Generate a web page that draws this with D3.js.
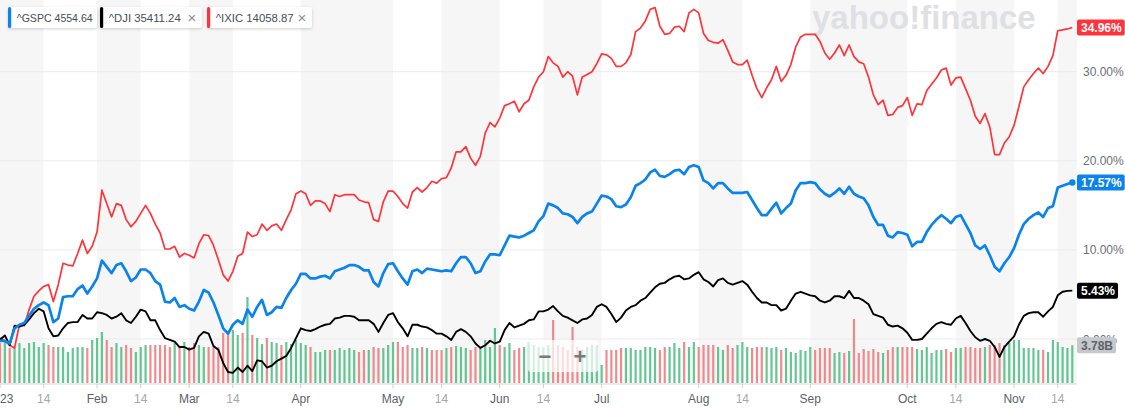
<!DOCTYPE html>
<html>
<head>
<meta charset="utf-8">
<script src="https://cdn.jsdelivr.net/npm/d3@7"></script>
<style>
  body { margin: 0; background: #fff; }
  svg { display: block; font-family: "Liberation Sans", Arial, sans-serif; }
</style>
</head>
<body>
<div id="container"></div>
<script>
/**
 * DATA
 * */
// trading calendar, Jan 3 - Nov 17 2023
const firstDay = "2023-01-03", lastDay = "2023-11-17";
const holidays = ["2023-01-16", "2023-02-20", "2023-04-07", "2023-05-29", "2023-06-19", "2023-07-04", "2023-09-04"];

// % change since 2022 close, one value per trading day (Jan | Feb | ... | Nov)
const gspc = [
  -0.2, -0.2, -0.5, 1.2, 1.6, 1.8, 2.6, 3.4, 3.8, 4.1, 3.8, 1.9, 2.3, 4.7, 4.8, 4.8, 5.6, 6.0, 5.1, 5.9,
  6.8, 8.8, 8.1, 7.4, 8.3, 8.5, 7.6, 6.5, 6.9, 7.8, 7.8, 7.4, 6.5, 6.1, 4.2, 4.1, 4.6, 3.6, 3.8,
  3.4, 3.2, 4.2, 5.5, 5.2, 4.1, 2.7, 1.2, 0.6, 1.6, 2.1, 1.7, 3.3, 2.5, 3.6, 4.4, 2.7, 3.0, 3.6, 3.5, 4.6, 5.5, 6.2,
  7.3, 7.3, 6.8, 6.8, 7.0, 7.1, 6.8, 7.6, 7.8, 8.0, 8.3, 8.3, 8.1, 7.7, 7.7, 6.4, 5.9, 7.4, 8.4,
  8.5, 7.6, 6.8, 6.1, 7.6, 7.8, 7.4, 7.9, 7.8, 7.7, 7.6, 7.7, 7.6, 8.5, 9.2, 9.2, 8.5, 7.4, 7.6, 8.7, 9.5, 9.5,
  9.4, 10.5, 11.6, 11.5, 11.4, 11.6, 11.9, 12.2, 13.2, 13.8, 15.2, 15.0, 14.7, 14.1, 14.0, 13.7, 13.0, 13.7, 14.1, 14.3, 15.2,
  16.1, 16.0, 15.7, 14.9, 14.8, 15.1, 15.9, 17.2, 17.5, 17.9, 18.7, 19.0, 18.3, 18.2, 18.5, 18.9, 19.0, 18.5, 19.3, 19.5,
  19.3, 17.8, 17.5, 16.9, 17.5, 17.5, 16.9, 16.4, 16.4, 16.4, 16.5, 15.6, 14.7, 13.9, 13.9, 14.6, 15.3, 14.1, 14.7, 15.2, 16.7, 17.5, 17.5,
  17.6, 17.5, 16.8, 16.3, 16.0, 16.4, 16.9, 16.3, 17.1, 16.3, 16.0, 15.8, 15.0, 13.7, 12.8, 12.8, 11.6, 11.4, 12.0, 11.9,
  11.7, 10.4, 10.9, 10.9, 12.0, 12.8, 13.4, 13.9, 13.5, 13.0, 13.7, 13.9, 12.9, 11.9, 10.5, 10.1, 10.5, 9.4, 8.1, 7.6, 8.5, 9.2,
  10.2, 11.7, 12.9, 13.5, 13.9, 14.2, 13.7, 14.7, 14.9, 17.0, 17.2, 17.4, 17.57
];
const dji = [
  -0.1, 0.4, -0.7, 1.5, 1.4, 1.6, 2.2, 2.9, 3.4, 3.1, 1.2, 0.3, 0.4, 1.2, 1.8, 1.9, 1.9, 2.7, 2.3, 2.3,
  3.0, 2.9, 2.7, 2.3, 2.5, 2.9, 2.1, 1.8, 2.5, 3.3, 3.1, 2.1, 2.1, 1.0, 0.1, -0.1, -0.3, -0.9, -0.9,
  -1.2, -1.0, 0.3, 0.8, 0.6, -0.8, -1.2, -2.7, -3.7, -3.8, -3.2, -3.7, -3.0, -3.6, -2.4, -2.5, -3.2, -3.0, -2.5, -2.2, -1.9, -1.0, 0.1,
  1.2, 1.0, 0.9, 1.1, 1.4, 1.6, 1.7, 2.3, 2.4, 2.6, 2.6, 2.5, 2.1, 2.1, 2.1, 1.7, 0.8, 1.8, 2.7,
  2.9, 1.9, 1.2, 0.3, 1.6, 1.6, 1.4, 1.3, 1.0, 0.6, 0.6, 0.3, -0.1, 0.8, 1.1, 0.8, 0.3, -0.5, -1.0, -0.7, -0.2, -0.5,
  -0.3, 1.0, 1.8, 1.3, 1.5, 1.7, 2.1, 2.2, 3.1, 3.1, 3.3, 3.7, 3.1, 2.6, 2.4, 2.1, 1.8, 2.2, 2.3, 2.7, 3.6,
  3.9, 3.6, 2.8, 1.9, 2.4, 3.2, 3.6, 3.8, 4.3, 4.6, 5.2, 5.8, 6.2, 6.3, 6.7, 7.0, 7.1, 6.7, 6.8, 7.2,
  7.5, 6.7, 6.4, 5.9, 6.6, 6.8, 6.3, 6.1, 6.3, 6.5, 6.1, 5.3, 4.6, 4.1, 4.1, 3.8, 3.8, 3.2, 3.4, 4.3, 5.1, 5.3, 5.1,
  4.9, 4.8, 4.3, 4.1, 4.3, 4.8, 4.8, 4.6, 5.4, 4.6, 4.6, 4.3, 3.9, 2.8, 2.6, 2.4, 1.6, 1.4, 1.5, 1.2,
  0.7, -0.1, -0.1, 0.0, 0.6, 1.2, 1.7, 1.9, 1.7, 1.6, 2.3, 2.6, 1.8, 0.9, 0.2, -0.2, 0.0, -0.2, -0.9, -2.0, -0.9, -0.3,
  0.3, 1.6, 2.6, 2.9, 3.0, 3.0, 2.5, 3.1, 3.6, 4.9, 5.3, 5.4, 5.43
];
const ixic = [
  0.1, -0.2, -0.7, -1.0, 1.6, 1.5, 3.3, 4.8, 5.4, 5.9, 6.1, 4.2, 6.1, 8.5, 8.3, 8.2, 9.6, 11.1, 9.6, 10.4,
  12.0, 16.7, 15.2, 13.7, 15.2, 15.0, 13.4, 12.6, 13.2, 14.1, 15.0, 14.1, 12.9, 11.9, 10.1, 10.1, 10.4, 9.2, 9.6,
  9.4, 9.1, 10.7, 11.7, 11.6, 10.5, 8.9, 7.2, 6.5, 7.6, 9.3, 9.6, 12.0, 11.5, 11.7, 12.9, 12.2, 12.7, 12.9, 12.2, 13.4, 14.5, 16.3,
  16.6, 16.3, 15.0, 15.5, 15.5, 15.2, 14.3, 16.2, 16.0, 16.2, 16.2, 16.2, 15.6, 15.4, 15.3, 13.4, 13.2, 15.4, 16.6,
  16.6, 16.0, 15.2, 14.7, 16.5, 17.0, 16.5, 17.0, 17.7, 17.5, 18.0, 18.1, 19.2, 21.0, 21.0, 21.6, 20.3, 19.5, 20.5, 23.1, 24.3, 23.8,
  24.8, 26.2, 26.4, 26.7, 25.5, 26.4, 26.8, 28.3, 29.4, 30.0, 31.7, 31.0, 30.6, 29.4, 30.0, 29.5, 27.4, 29.4, 29.7, 30.0, 30.9,
  32.0, 31.9, 31.5, 30.6, 30.6, 31.0, 31.9, 34.5, 34.9, 35.7, 37.0, 37.2, 35.1, 34.2, 34.3, 35.0, 35.1, 34.5, 36.6, 37.0,
  36.6, 34.3, 33.5, 33.3, 33.2, 33.6, 32.4, 31.1, 30.8, 30.8, 31.3, 29.6, 28.1, 27.1, 28.2, 29.1, 30.6, 28.9, 29.6, 30.8, 32.8, 33.9, 34.2,
  34.2, 34.2, 33.4, 32.1, 31.4, 32.1, 33.0, 31.8, 33.0, 31.7, 31.1, 30.9, 29.4, 27.4, 26.3, 26.8, 25.1, 25.2, 26.0, 26.2,
  27.1, 25.1, 26.4, 26.3, 27.9, 28.6, 29.3, 30.2, 30.4, 28.5, 29.3, 29.4, 28.1, 26.8, 25.0, 24.2, 25.3, 23.8, 20.7, 20.7, 22.0, 22.7,
  24.0, 26.1, 28.3, 29.1, 29.8, 30.4, 29.8, 30.6, 31.8, 34.6, 34.7, 34.8, 34.96
];
// S&P volume, billions
const volume = [
  4.0, 4.1, 3.5, 3.6, 4.0, 3.5, 4.0, 4.1, 3.6, 4.0, 3.8, 3.6, 3.6, 3.6, 3.1, 3.5, 3.6, 3.6, 3.5, 4.3,
  4.5, 5.1, 4.3, 3.6, 4.0, 3.6, 3.8, 3.5, 3.1, 3.6, 3.8, 3.8, 3.8, 3.8, 3.8, 3.6, 4.0, 3.6, 4.1,
  3.6, 4.0, 3.8, 3.6, 3.6, 3.6, 3.6, 5.0, 5.1, 5.3, 4.8, 5.0, 8.6, 4.8, 4.5, 3.9, 4.5, 4.1, 4.0, 3.8, 4.1, 3.9, 4.3,
  4.0, 3.8, 3.6, 3.1, 3.1, 3.3, 3.3, 3.3, 3.5, 3.3, 3.5, 3.3, 3.1, 3.3, 3.3, 3.6, 3.5, 3.5, 3.8,
  4.1, 4.1, 3.6, 3.8, 3.5, 3.5, 3.6, 3.5, 3.3, 3.3, 3.3, 3.5, 3.6, 3.7, 3.6, 3.5, 3.3, 3.6, 3.5, 4.3, 3.6, 5.5,
  3.8, 3.6, 4.0, 3.3, 3.5, 3.6, 4.1, 3.8, 3.6, 3.6, 3.8, 6.3, 3.8, 3.6, 3.3, 5.6, 3.6, 3.3, 3.6, 3.8, 3.8,
  1.8, 3.3, 3.3, 3.3, 3.5, 3.5, 3.5, 3.3, 3.3, 3.6, 3.6, 3.5, 3.3, 3.6, 3.6, 4.0, 3.5, 4.1, 3.6, 4.1,
  3.6, 3.8, 3.8, 3.8, 3.6, 3.3, 3.8, 3.5, 3.8, 4.1, 3.6, 3.5, 3.6, 3.6, 3.6, 3.5, 3.6, 3.3, 3.5, 3.1, 3.0, 3.3, 3.2,
  3.6, 3.3, 3.5, 3.5, 3.5, 3.0, 3.1, 3.0, 3.2, 6.4, 3.0, 3.4, 3.2, 3.4, 3.1, 3.0, 3.3, 3.6, 3.6, 3.6,
  3.6, 3.6, 3.4, 3.3, 3.6, 3.0, 3.3, 3.3, 3.4, 3.1, 3.5, 3.5, 3.6, 3.6, 3.5, 3.5, 3.6, 3.8, 3.8, 4.0, 3.8, 4.0,
  4.3, 4.3, 3.5, 3.5, 3.5, 3.3, 3.3, 3.1, 4.3, 4.1, 3.6, 3.5, 3.78
];

// x axis ticks
const tickDates = ["2023-01-03", "2023-01-14", "2023-02-01", "2023-02-14", "2023-03-01", "2023-03-14", "2023-04-01",
  "2023-05-01", "2023-05-14", "2023-06-01", "2023-06-14", "2023-07-01", "2023-08-01", "2023-08-14", "2023-09-01",
  "2023-10-01", "2023-10-14", "2023-11-01", "2023-11-14"];
const tickLabels = ["2023", "14", "Feb", "14", "Mar", "14", "Apr", "May", "14", "Jun", "14", "Jul", "Aug", "14", "Sep", "Oct", "14", "Nov", "14"];
const yTicks = [0, 10, 20, 30];

const symbols = ["^GSPC", "^DJI", "^IXIC"];
const quotes = ["4554.64", "35411.24", "14058.87"];
const colors = ["#0a84ec", "#000000", "#ff333a"];

/**
 * CONSTANTS AND GLOBALS
 * */
const width = 1125, height = 408,
  plotRight = 1077, plotBottom = 384;

const fmt = d3.timeFormat("%Y-%m-%d"), parse = d3.timeParse("%Y-%m-%d");
const dates = d3.timeDay.range(parse(firstDay), d3.timeDay.offset(parse(lastDay), 1))
  .filter(d => d.getDay() > 0 && d.getDay() < 6 && !holidays.includes(fmt(d)))
  .map(fmt);

const svg = d3.select("#container")
  .append("svg")
  .attr("width", width)
  .attr("height", height);

const x = d3.scalePoint().domain(dates).range([0, 1072.3]);
const y = d3.scaleLinear().domain([-5.05, 38.05]).range([plotBottom, 0]);
const yVol = d3.scaleLinear().domain([0, 9]).range([plotBottom - 1, plotBottom - 91]);

// tick positions = first trading day on/after the tick date
const tickX = tickDates.map(t => x(dates.find(d => d >= t)));

// alternating bands
svg.append("g")
  .selectAll("rect")
  .data(tickX)
  .join("rect")
  .attr("x", d => d)
  .attr("y", 0)
  .attr("width", (d, i) => (i < tickX.length - 1 ? tickX[i + 1] : plotRight) - d)
  .attr("height", plotBottom)
  .attr("fill", (d, i) => i % 2 === 0 ? "#f6f6f6" : "#ffffff");

// horizontal grid
svg.append("g")
  .selectAll("line")
  .data(yTicks)
  .join("line")
  .attr("x1", 0).attr("x2", plotRight)
  .attr("y1", d => y(d)).attr("y2", d => y(d))
  .attr("stroke", "#ebebeb");

// watermark
svg.append("text")
  .attr("x", 812).attr("y", 29)
  .attr("font-size", 33).attr("font-weight", "bold")
  .attr("fill", "#dfe0e4")
  .text("yahoo!finance");

// volume
svg.append("g")
  .selectAll("rect")
  .data(volume)
  .join("rect")
  .attr("x", (d, i) => x(dates[i]) - 1.1)
  .attr("y", d => yVol(d))
  .attr("width", 2.2)
  .attr("height", d => yVol(0) - yVol(d))
  .attr("fill", (d, i) => gspc[i] >= (i > 0 ? gspc[i - 1] : 0) ? "#4fbf84" : "#f07a7d")
  .attr("opacity", 0.88);

// axis
svg.append("line")
  .attr("x1", 0).attr("x2", plotRight)
  .attr("y1", plotBottom).attr("y2", plotBottom)
  .attr("stroke", "#d6d6d6");

const xt = svg.append("g")
  .selectAll("g")
  .data(tickX)
  .join("g")
  .attr("transform", d => `translate(${d},${plotBottom})`);
xt.append("line").attr("y1", 0).attr("y2", 4).attr("stroke", "#d0d0d0");
xt.append("text")
  .attr("y", 19)
  .attr("text-anchor", "middle")
  .attr("font-size", 12)
  .attr("fill", (d, i) => tickLabels[i] === "14" ? "#a3a7ab" : "#5b636a")
  .text((d, i) => tickLabels[i]);

// y labels
svg.append("g")
  .selectAll("text")
  .data(yTicks)
  .join("text")
  .attr("x", 1083)
  .attr("y", d => y(d) + 4.5)
  .attr("font-size", 12)
  .attr("fill", "#6b7077")
  .text(d => d3.format(".2f")(d) + "%");

// lines
svg.append("clipPath").attr("id", "clip")
  .append("rect").attr("width", plotRight).attr("height", plotBottom);

const line = d3.line()
  .x((d, i) => x(dates[i]))
  .y(d => y(d));

const series = [ixic, dji, gspc];
const seriesColor = [colors[2], colors[1], colors[0]];
const seriesWidth = [1.7, 1.9, 2.7];

svg.append("g")
  .attr("clip-path", "url(#clip)")
  .selectAll("path")
  .data(series)
  .join("path")
  .attr("d", d => line(d))
  .attr("fill", "none")
  .attr("stroke", (d, i) => seriesColor[i])
  .attr("stroke-width", (d, i) => seriesWidth[i])
  .attr("stroke-linejoin", "round");

svg.append("circle")
  .attr("cx", x(dates[dates.length - 1]))
  .attr("cy", y(gspc[gspc.length - 1]))
  .attr("r", 3.2)
  .attr("fill", colors[0]);

// zoom control
svg.append("rect")
  .attr("x", 528).attr("y", 340).attr("width", 70).attr("height", 32)
  .attr("rx", 3)
  .attr("fill", "#fff").attr("opacity", 0.72);
svg.append("text").attr("x", 545).attr("y", 364).attr("text-anchor", "middle")
  .attr("font-size", 22).attr("font-weight", "bold").attr("fill", "#7a7a7a").text("−");
svg.append("text").attr("x", 580).attr("y", 364).attr("text-anchor", "middle")
  .attr("font-size", 22).attr("font-weight", "bold").attr("fill", "#7a7a7a").text("+");

// value tags on the right
function tag(yPos, txt, fill, textFill) {
  const g = svg.append("g").attr("transform", `translate(1077,${yPos})`);
  const t = g.append("text")
    .attr("x", 4).attr("y", 4.5)
    .attr("font-size", 12).attr("font-weight", "bold")
    .attr("fill", textFill)
    .text(txt);
  const w = t.node().getComputedTextLength() + 7;
  g.insert("rect", "text")
    .attr("x", 0).attr("y", -8).attr("width", w).attr("height", 16)
    .attr("rx", 2).attr("fill", fill);
}
tag(y(ixic[ixic.length - 1]), d3.format(".2f")(ixic[ixic.length - 1]) + "%", colors[2], "#fff");
tag(y(gspc[gspc.length - 1]), d3.format(".2f")(gspc[gspc.length - 1]) + "%", colors[0], "#fff");
tag(y(dji[dji.length - 1]), d3.format(".2f")(dji[dji.length - 1]) + "%", colors[1], "#fff");
tag(yVol(volume[volume.length - 1]), d3.format(".2f")(volume[volume.length - 1]) + "B", "#c5c8cc", "#5b636a");

// legend
const legendX = [8, 100, 207], legendW = [89, 102, 105], legendTextW = [76, 72, 78];
const leg = svg.append("g")
  .selectAll("g")
  .data(symbols)
  .join("g")
  .attr("transform", (d, i) => `translate(${legendX[i]},7)`);
leg.append("rect")
  .attr("width", (d, i) => legendW[i]).attr("height", 21)
  .attr("rx", 2)
  .attr("fill", "#fff")
  .style("filter", "drop-shadow(0px 1px 1.5px rgba(0,0,0,0.18))");
leg.append("rect")
  .attr("width", 3.2).attr("height", 21).attr("rx", 1.5)
  .attr("fill", (d, i) => colors[i]);
leg.append("text")
  .attr("x", 8.7).attr("y", 14.8)
  .attr("font-size", 11.5)
  .attr("fill", "#464e56")
  .attr("textLength", (d, i) => legendTextW[i])
  .attr("lengthAdjust", "spacingAndGlyphs")
  .text((d, i) => `${d} ${quotes[i]}`);
leg.filter((d, i) => i > 0)
  .append("text")
  .attr("x", (d, i) => legendW[i + 1] - 10).attr("y", 15.5)
  .attr("text-anchor", "middle")
  .attr("font-size", 15)
  .attr("fill", "#8a8f95")
  .text("×");
</script>
</body>
</html>
